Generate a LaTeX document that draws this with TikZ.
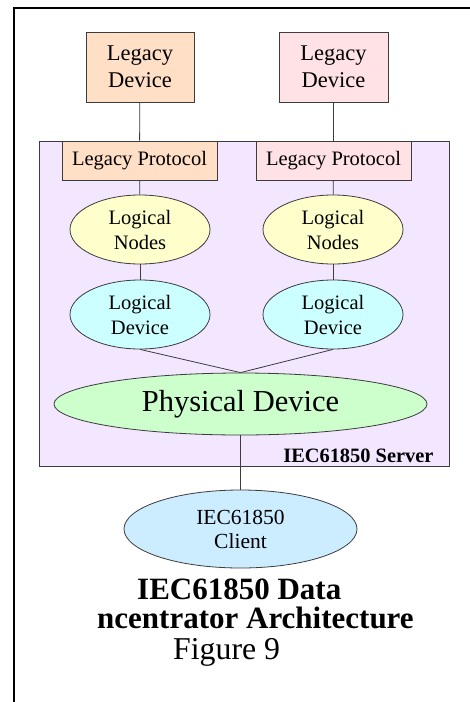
\documentclass[tikz,border=0pt]{standalone}
\usepackage{fontspec}
\setmainfont{Liberation Serif}
\usepackage{xcolor}
\usepackage{tikz}
\usetikzlibrary{shapes}
\definecolor{peach}{RGB}{255,223,198}
\definecolor{rosy}{RGB}{255,226,229}
\definecolor{lavender}{RGB}{243,230,255}
\definecolor{lnyellow}{RGB}{255,255,204}
\definecolor{ldcyan}{RGB}{204,255,255}
\definecolor{pdgreen}{RGB}{204,255,204}
\definecolor{clblue}{RGB}{204,236,255}
\definecolor{edge}{RGB}{60,60,60}

\begin{document}
\begin{tikzpicture}[x=1pt, y=-1pt,
    legbox/.style={draw=edge, line width=0.8pt, rectangle, minimum width=108pt, minimum height=70pt, inner sep=0pt, align=center, font=\fontsize{22.5}{27}\selectfont},
    protobox/.style={draw=edge, line width=0.8pt, rectangle, minimum width=155pt, minimum height=39pt, inner sep=0pt, font=\fontsize{20.5}{24}\selectfont},
    oval/.style={draw=edge, line width=0.8pt, ellipse, inner sep=0pt, align=center, font=\fontsize{20.5}{25}\selectfont},
    link/.style={draw=edge, line width=0.8pt}]
    \clip (0,0) rectangle (470,702);
    \useasboundingbox (0,0) rectangle (470,702);

    % Frame
    \draw[line width=2pt] (14,8) rectangle (480,712);

    % Server
    \draw[draw=edge, line width=0.8pt, fill=lavender] (39,141) rectangle (449,466);
    % Text
    \node[anchor=base east, font=\bfseries\fontsize{20.4}{24}\selectfont] (srv) at (437,462) {IEC61850 Server};

    % Legacy devices
    \node[legbox, fill=peach] (leg1) at (140,67) {Legacy\\Device};
    \node[legbox, fill=rosy, minimum width=109pt] (leg2) at (333.5,67) {Legacy\\Device};

    % Protocols
    \node[protobox, fill=peach] (lp1) at (139.5,160.5) {Legacy Protocol};
    \node[protobox, fill=rosy] (lp2) at (333.5,160.5) {Legacy Protocol};

    % Logical nodes
    \node[oval, fill=lnyellow, minimum width=140pt, minimum height=69pt] (ln1) at (140,229.5) {Logical\\Nodes};
    \node[oval, fill=lnyellow, minimum width=140pt, minimum height=69pt] (ln2) at (333,229.5) {Logical\\Nodes};

    % Logical devices
    \node[oval, fill=ldcyan, minimum width=140pt, minimum height=69pt] (ld1) at (140,314.5) {Logical\\Device};
    \node[oval, fill=ldcyan, minimum width=140pt, minimum height=69pt] (ld2) at (333,314.5) {Logical\\Device};

    % Physical device
    \node[oval, fill=pdgreen, minimum width=373pt, minimum height=62pt, font=\fontsize{30.5}{36}\selectfont] (pd) at (240.5,404) {Physical Device};

    % Client
    \node[oval, fill=clblue, minimum width=233pt, minimum height=78pt, font=\fontsize{21.5}{24}\selectfont] (cl) at (240.5,529) {IEC61850\\Client};

    % Lines
    \draw[link] (leg1) -- (lp1);
    \draw[link] (leg2) -- (lp2);
    \draw[link] (lp1) -- (ln1);
    \draw[link] (lp2) -- (ln2);
    \draw[link] (ln1) -- (ld1);
    \draw[link] (ln2) -- (ld2);
    \draw[link] (ld1.south) -- (pd.north);
    \draw[link] (ld2.south) -- (pd.north);
    \draw[link] (pd) -- (cl);

    % Caption
    \node[anchor=base west, inner sep=0pt, font=\bfseries\fontsize{31}{36}\selectfont] (cap1) at (137,599) {IEC61850 Data};
    \node[anchor=base west, inner sep=0pt, font=\bfseries\fontsize{31}{36}\selectfont] (cap2) at (97,628) {ncentrator Architecture};
    \node[anchor=base west, inner sep=0pt, font=\fontsize{31.8}{36}\selectfont] (fig) at (173,659) {Figure 9};
\end{tikzpicture}
\end{document}
